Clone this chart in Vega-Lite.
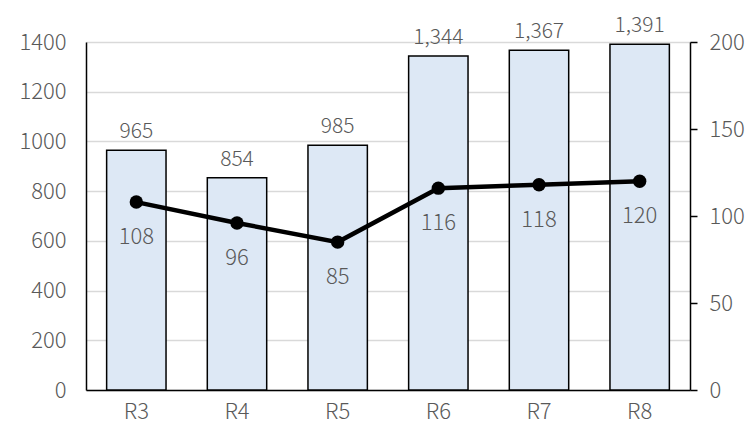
{
  "$schema": "https://vega.github.io/schema/vega-lite/v6.json",
  "width": 604,
  "height": 348,
  "autosize": "none",
  "padding": {"left": 86, "top": 42, "right": 62, "bottom": 36},
  "background": "white",
  "config": {
    "view": {"stroke": null},
    "font": "Noto Sans CJK JP",
    "axis": {"labelFont": "Noto Sans CJK JP", "labelFontWeight": 300, "labelColor": "#595959", "labelFontSize": 22, "title": null}
  },
  "data": {"values": [
    {"round": "R3", "count": 965, "score": 108},
    {"round": "R4", "count": 854, "score": 96},
    {"round": "R5", "count": 985, "score": 85},
    {"round": "R6", "count": 1344, "score": 116},
    {"round": "R7", "count": 1367, "score": 118},
    {"round": "R8", "count": 1391, "score": 120}
  ]},
  "encoding": {
    "x": {"field": "round", "type": "nominal", "sort": null,
      "scale": {"paddingInner": 0.41, "paddingOuter": 0.205},
      "axis": {"labelAngle": 0, "ticks": false, "domainColor": "#000000", "domainWidth": 1.5, "labelPadding": 11, "grid": false}}
  },
  "layer": [
    {
      "encoding": {
        "y": {"field": "count", "type": "quantitative",
          "scale": {"domain": [0, 1400], "nice": false},
          "axis": {"values": [0, 200, 400, 600, 800, 1000, 1200, 1400], "format": "d", "grid": true, "gridColor": "#d9d9d9", "gridWidth": 1.5, "ticks": false, "domainColor": "#000000", "domainWidth": 1.5, "labelPadding": 20}}
      },
      "layer": [
        {"mark": {"type": "bar", "fill": "#dde8f5", "stroke": "#000000", "strokeWidth": 1.5}},
        {"mark": {"type": "text", "baseline": "bottom", "dy": -8, "fontSize": 21, "fontWeight": 300, "color": "#595959"},
          "encoding": {"text": {"field": "count", "type": "quantitative", "format": ","}}}
      ]
    },
    {
      "encoding": {
        "y": {"field": "score", "type": "quantitative",
          "scale": {"domain": [0, 200], "nice": false},
          "axis": {"orient": "right", "values": [0, 50, 100, 150, 200], "grid": false, "ticks": true, "tickSize": 7, "tickWidth": 1.5, "tickColor": "#000000", "domainColor": "#000000", "domainWidth": 1.5, "labelPadding": 12}}
      },
      "layer": [
        {"mark": {"type": "line", "color": "#000000", "strokeWidth": 4.5}},
        {"mark": {"type": "point", "filled": true, "color": "#000000", "size": 180, "opacity": 1}},
        {"mark": {"type": "text", "baseline": "middle", "dy": 35, "fontSize": 22, "fontWeight": 300, "color": "#595959"},
          "encoding": {"text": {"field": "score", "type": "quantitative"}}}
      ]
    }
  ],
  "resolve": {"scale": {"y": "independent"}}
}
